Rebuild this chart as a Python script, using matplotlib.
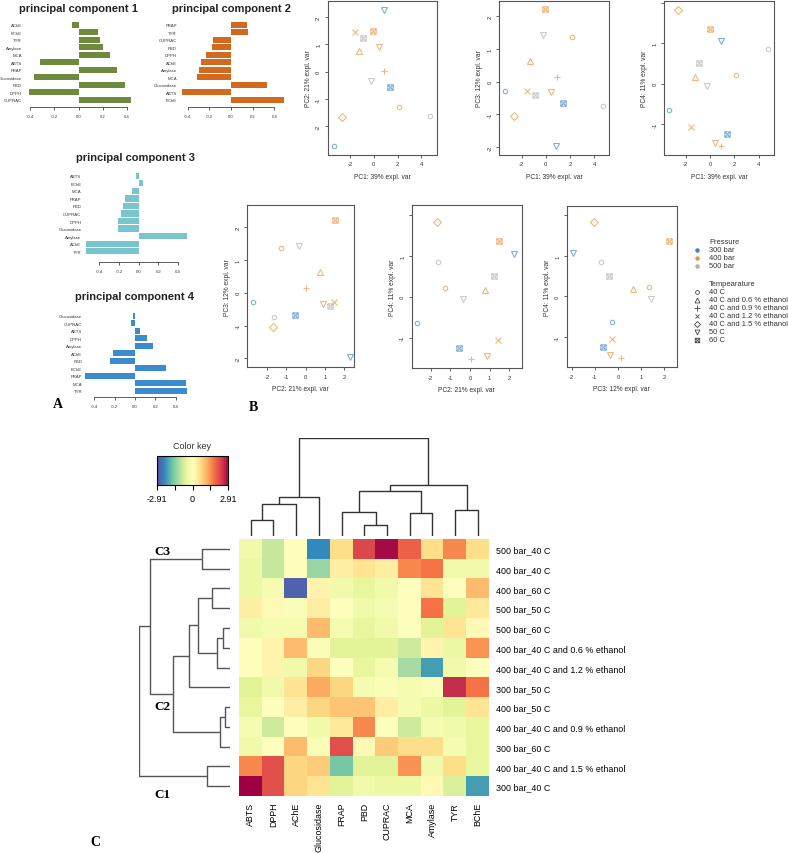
import numpy as np
import matplotlib
matplotlib.use('Agg')
import matplotlib.pyplot as plt
from matplotlib.path import Path

plt.rcParams['font.family'] = ['Liberation Sans', 'DejaVu Sans']

W, H = 788, 854

# ---- loadings, listed top to bottom as drawn
pc1_vars = ['AChE', 'BChE', 'TYR', 'Amylase', 'MCA', 'ABTS', 'FRAP', 'Glucosidase', 'PBD', 'DPPH', 'CUPRAC']
pc1_load = [-0.05, 0.16, 0.18, 0.20, 0.26, -0.32, 0.32, -0.37, 0.38, -0.41, 0.43]
pc2_vars = ['FRAP', 'TYR', 'CUPRAC', 'PBD', 'DPPH', 'AChE', 'Amylase', 'MCA', 'Glucosidase', 'ABTS', 'BChE']
pc2_load = [0.145, 0.155, -0.165, -0.18, -0.23, -0.275, -0.295, -0.315, 0.33, -0.45, 0.49]
pc3_vars = ['ABTS', 'BChE', 'MCA', 'FRAP', 'PBD', 'CUPRAC', 'DPPH', 'Glucosidase', 'Amylase', 'AChE', 'TYR']
pc3_load = [-0.03, 0.045, -0.07, -0.14, -0.16, -0.18, -0.21, -0.21, 0.495, -0.54, -0.54]
pc4_vars = ['Glucosidase', 'CUPRAC', 'ABTS', 'DPPH', 'Amylase', 'AChE', 'PBD', 'BChE', 'FRAP', 'MCA', 'TYR']
pc4_load = [-0.02, -0.04, 0.045, 0.12, 0.175, -0.22, -0.245, 0.30, -0.49, 0.50, 0.515]

# ---- PCA scores
pressure = [300, 300, 300, 400, 400, 400, 400, 400, 400, 400, 500, 500, 500]
condition = ['40 C', '50 C', '60 C', '40 C', '0.6', '0.9', '1.2', '1.5', '50 C', '60 C', '40 C', '50 C', '60 C']
pc1 = [-3.33, 0.87, 1.40, 2.15, -1.26, 0.90, -1.54, -2.66, 0.45, -0.03, 4.75, -0.22, -0.87]
pc2 = [-2.70, 2.27, -0.56, -1.28, 0.76, 0.04, 1.45, -1.67, 0.89, 1.50, -1.63, -0.34, 1.23]
pc3 = [-0.27, -1.96, -0.66, 1.36, 0.64, 0.14, -0.28, -1.04, -0.33, 2.21, -0.73, 1.44, -0.40]
pc4 = [-0.64, 1.06, -1.25, 0.22, 0.17, -1.53, -1.06, 1.83, -1.45, 1.36, 0.86, -0.06, 0.51]

press_levels = [300, 400, 500]
press_names = ['300 bar', '400 bar', '500 bar']
cond_levels = ['40 C', '0.6', '0.9', '1.2', '1.5', '50 C', '60 C']
cond_names = ['40 C', '40 C and 0.6 % ethanol', '40 C and 0.9 % ethanol', '40 C and 1.2 % ethanol',
              '40 C and 1.5 % ethanol', '50 C', '60 C']

# ---- heatmap (rows/cols in dendrogram order)
hm_cols = ['ABTS', 'DPPH', 'AChE', 'Glucosidase', 'FRAP', 'PBD', 'CUPRAC', 'MCA', 'Amylase', 'TYR', 'BChE']
hm_rows = ['500 bar_40 C', '400 bar_40 C', '400 bar_60 C', '500 bar_50 C', '500 bar_60 C',
           '400 bar_40 C and 0.6 % ethanol', '400 bar_40 C and 1.2 % ethanol', '300 bar_50 C',
           '400 bar_50 C', '400 bar_40 C and 0.9 % ethanol', '300 bar_60 C',
           '400 bar_40 C and 1.5 % ethanol', '300 bar_40 C']
hm_vals = [
    [-0.3, -0.9, 0.0, -2.3, 0.6, 2.2, 2.8, 1.9, 0.6, 1.5, 0.6],
    [-0.4, -0.9, 0.0, -1.3, 0.3, 0.5, 0.3, 1.5, 1.7, -0.3, -0.3],
    [-0.4, -0.2, -2.7, 0.2, -0.3, -0.5, -0.3, 0.0, 0.5, 0.0, 1.0],
    [0.3, 0.1, -0.1, 0.3, 0.0, -0.3, -0.2, 0.0, 1.7, -0.6, 0.4],
    [-0.3, -0.2, -0.2, 1.0, -0.2, -0.5, -0.3, 0.0, -0.6, 0.5, 0.1],
    [0.0, 0.2, 1.0, -0.1, -0.6, -0.6, -0.6, -0.8, 0.2, -0.4, 1.4],
    [0.0, 0.2, -0.3, 0.7, 0.0, -0.5, -0.2, -1.2, -2.1, -0.3, 0.0],
    [-0.6, -0.3, 0.5, 1.2, 0.7, -0.2, -0.1, -0.2, -0.1, 2.5, 1.7],
    [-0.5, 0.0, 0.3, 0.7, 0.9, 0.9, 0.3, -0.2, -0.4, -0.6, 0.5],
    [-0.2, -0.8, 0.0, -0.3, 0.4, 1.5, 0.0, -0.8, -0.2, -0.3, -0.5],
    [-0.3, 0.0, 1.0, -0.1, 2.1, 0.1, 0.8, 0.6, 0.6, -0.2, -0.5],
    [1.5, 2.1, 0.7, 0.8, -1.6, -0.6, -0.6, 1.4, -0.3, 0.6, -0.5],
    [2.9, 2.1, 0.7, 0.5, -0.6, -0.3, -0.4, -0.4, 0.1, -0.7, -2.1],
]
key_lim = 2.91

# merges (left, right, height); leaves are 0..n-1, new nodes numbered from n
col_merges = [(0, 1, 1.6), (11, 2, 3.27), (12, 3, 4.0), (5, 6, 1.1), (4, 14, 2.5),
              (7, 8, 2.33), (15, 16, 4.67), (9, 10, 2.73), (17, 18, 5.27), (13, 19, 10.07)]
row_merges = [(0, 1, 2.8), (2, 3, 1.8), (4, 5, 0.7), (15, 6, 1.3), (14, 16, 3.2), (17, 7, 4.1),
              (8, 9, 0.5), (19, 10, 1.0), (18, 20, 5.7), (13, 21, 8.0), (11, 12, 2.3), (22, 23, 9.1)]


def px_axes(fig, x0, y0, x1, y1):
    return fig.add_axes([x0 / W, 1 - y1 / H, (x1 - x0) / W, (y1 - y0) / H])


def dendro_segments(n, merges):
    pos = [float(i) for i in range(n)]
    hgt = [0.0] * n
    segs = []
    for a, b, h in merges:
        segs.append(([pos[a], pos[a], pos[b], pos[b]], [hgt[a], h, h, hgt[b]]))
        pos.append((pos[a] + pos[b]) / 2)
        hgt.append(h)
    return segs


fig = plt.figure(figsize=(W / 100, H / 100), dpi=100)
ov = fig.add_axes([0, 0, 1, 1])
ov.set_xlim(0, W)
ov.set_ylim(H, 0)
ov.axis('off')


def bar_panel(labels, values, color, title, title_xy, zero_x, unit, y_first, step, axis_y, xlim):
    n = len(values)
    x0 = zero_x + xlim[0] * unit
    x1 = zero_x + xlim[1] * unit
    top = y_first - 0.6 * step
    bot = y_first + (n - 0.4) * step
    ax = px_axes(fig, x0, top, x1, bot)
    pos = np.arange(n)
    ax.barh(pos, values, height=0.84, color=color)
    for s in ['left', 'top', 'right']:
        ax.spines[s].set_visible(False)
    ax.spines['bottom'].set_bounds(-0.4, 0.4)
    ax.spines['bottom'].set_position(('outward', (axis_y - bot) * 0.72))
    ax.spines['bottom'].set_linewidth(0.6)
    ax.spines['bottom'].set_color('#444444')
    ax.set_xlim(xlim)
    ax.set_ylim(n - 0.4, -0.6)
    ax.set_yticks(pos)
    ax.set_yticklabels(labels)
    ticks = [-0.4, -0.2, 0.0, 0.2, 0.4]
    ax.set_xticks(ticks)
    ax.set_xticklabels(['%.1f' % t for t in ticks])
    ax.tick_params(axis='y', length=0, pad=1.5, labelsize=3.1, labelcolor='#333333')
    ax.tick_params(axis='x', length=2.2, width=0.6, pad=3.2, color='#444444',
                   labelsize=3.1, labelcolor='#333333')
    ov.text(title_xy[0], title_xy[1], title, fontsize=8, fontweight='bold',
            ha='center', va='center', color='#222222')


bar_panel(pc1_vars, pc1_load, '#6E8B3D', 'principal component 1', (78, 8.5),
          78.5, 121.25, 25.7, 7.5, 108, (-0.45, 0.46))
bar_panel(pc2_vars, pc2_load, '#D2691E', 'principal component 2', (232, 8.5),
          231, 108.3, 25.7, 7.5, 108, (-0.48, 0.52))
bar_panel(pc3_vars, pc3_load, '#7AC5CD', 'principal component 3', (135, 158),
          138.7, 98.5, 176.7, 7.56, 263, (-0.56, 0.52))
bar_panel(pc4_vars, pc4_load, '#3A8CCF', 'principal component 4', (135, 297),
          135, 101.7, 316.7, 7.5, 398, (-0.5, 0.54))

# ---- score plots
press_col = {300: '#3D85C6', 400: '#E8913A', 500: '#B0B0B0'}
sq_x = Path([(-1, -1), (1, -1), (1, 1), (-1, 1), (-1, -1), (-1, -1), (1, 1), (-1, 1), (1, -1)],
            [Path.MOVETO, Path.LINETO, Path.LINETO, Path.LINETO, Path.CLOSEPOLY,
             Path.MOVETO, Path.LINETO, Path.MOVETO, Path.LINETO])
cond_mark = {'40 C': ('o', 3.2), '0.6': ('^', 4.2), '0.9': ('+', 5.0), '1.2': ('x', 3.8),
             '1.5': ('D', 3.6), '50 C': ('v', 4.2), '60 C': (sq_x, 3.8)}

scores = {'PC1': pc1, 'PC2': pc2, 'PC3': pc3, 'PC4': pc4}
expl = {'PC1': '39%', 'PC2': '21%', 'PC3': '12%', 'PC4': '11%'}

panels = [
    ('PC1', 'PC2', (327.7, 1.5, 437.3, 155.7), (-3.87, 5.34), (-3.03, 2.6), [-2, 0, 2, 4], [-2, -1, 0, 1, 2], True),
    ('PC1', 'PC3', (499.3, 1.5, 609.3, 155.7), (-3.84, 5.26), (-2.23, 2.48), [-2, 0, 2, 4], [-2, -1, 0, 1, 2], True),
    ('PC1', 'PC4', (664, 1.5, 774.3, 155.7), (-3.77, 5.27), (-1.75, 2.06), [-2, 0, 2, 4], [-1, 0, 1, 2], False),
    ('PC2', 'PC3', (247.3, 206, 354, 368.3), (-3.01, 2.49), (-2.27, 2.68), [-2, -1, 0, 1, 2], [-2, -1, 0, 1, 2], True),
    ('PC2', 'PC4', (411.7, 206, 521.7, 369.3), (-2.97, 2.64), (-1.75, 2.25), [-2, -1, 0, 1, 2], [-1, 0, 1, 2], False),
    ('PC3', 'PC4', (566.7, 207, 676.7, 368.3), (-2.22, 2.54), (-1.75, 2.23), [-2, -1, 0, 1, 2], [-1, 0, 1, 2], False),
]

for xk, yk, box, xl, yl, xt, yt, top_label in panels:
    ax = px_axes(fig, *box)
    xs, ys = scores[xk], scores[yk]
    for i in range(len(xs)):
        m, ms = cond_mark[condition[i]]
        ax.plot(xs[i], ys[i], linestyle='none', marker=m, markersize=ms, mfc='none',
                mec=press_col[pressure[i]], mew=0.8, alpha=0.65)
    ax.set_xlim(xl)
    ax.set_ylim(yl)
    ax.set_xticks(xt)
    ax.set_xticklabels([str(t) for t in xt], fontsize=4.2)
    ax.set_yticks(yt)
    ylabs = [str(t) for t in yt]
    if not top_label:
        ylabs[-1] = ''
    ax.set_yticklabels(ylabs, fontsize=4.2, rotation=90, va='center')
    ax.tick_params(length=2.2, width=0.6, pad=2.5, color='#444444', labelcolor='#333333')
    for s in ax.spines.values():
        s.set_linewidth(0.8)
        s.set_color('#555555')
    cx = (box[0] + box[2]) / 2
    cy = (box[1] + box[3]) / 2
    ov.text(cx, box[3] + 21.5, '%s: %s expl. var' % (xk, expl[xk]), fontsize=4.8,
            ha='center', va='center', color='#333333')
    ov.text(box[0] - 19.5, cy, '%s: %s expl. var' % (yk, expl[yk]), fontsize=4.8,
            ha='center', va='center', rotation=90, color='#333333')

# legend
ov.text(709, 242.7, 'Pressure', fontsize=5.4, va='center', color='#333333')
for i, p in enumerate(press_levels):
    y = 250.7 + i * 8.1
    ov.plot(697.3, y, 'o', markersize=2.2, color=press_col[p])
    ov.text(709, y, press_names[i], fontsize=5.4, va='center', color='#333333')
ov.text(709, 284.3, 'Tempearature', fontsize=5.4, va='center', color='#333333')
for i, c in enumerate(cond_levels):
    y = 292.7 + i * 8.05
    m, ms = cond_mark[c]
    ov.plot(697.3, y, linestyle='none', marker=m, markersize=ms * 0.85, mfc='none',
            mec='#444444', mew=0.6)
    ov.text(709, y, cond_names[i], fontsize=5.4, va='center', color='#333333')

ov.text(58, 405, 'A', fontsize=10, fontweight='bold', family='Liberation Serif', ha='center', va='center')
ov.text(253, 408, 'B', fontsize=10, fontweight='bold', family='Liberation Serif', ha='center', va='center')
ov.text(95, 843, 'C', fontsize=10, fontweight='bold', family='Liberation Serif', ha='center', va='center')

# ---- heatmap
hx0, hy0, hx1, hy1 = 239.3, 540, 489.3, 797
hax = px_axes(fig, hx0, hy0, hx1, hy1)
hax.imshow(np.array(hm_vals), cmap='Spectral_r', vmin=-key_lim, vmax=key_lim,
           aspect='auto', interpolation='nearest')
hax.set_xticks(range(len(hm_cols)))
hax.set_xticklabels(hm_cols, rotation=90, fontsize=6.4, va='top')
hax.yaxis.tick_right()
hax.set_yticks(range(len(hm_rows)))
hax.set_yticklabels(hm_rows, fontsize=6.4)
hax.tick_params(axis='x', length=0, pad=4.3)
hax.tick_params(axis='y', length=0, pad=4.8)
for s in hax.spines.values():
    s.set_visible(False)

# column dendrogram
cax = px_axes(fig, hx0, 439.3, hx1, 537)
for xs, ys in dendro_segments(len(hm_cols), col_merges):
    cax.plot(xs, ys, color='#333333', lw=1.0, solid_capstyle='butt')
cax.set_xlim(-0.5, len(hm_cols) - 0.5)
cax.set_ylim(0, col_merges[-1][2])
cax.axis('off')

# row dendrogram
rax = px_axes(fig, 139, hy0, 230, hy1)
for xs, ys in dendro_segments(len(hm_rows), row_merges):
    rax.plot(ys, xs, color='#555555', lw=1.0, solid_capstyle='butt')
rax.set_xlim(row_merges[-1][2], 0)
rax.set_ylim(len(hm_rows) - 0.5, -0.5)
rax.axis('off')

for lab, y in [('C3', 552), ('C2', 707), ('C1', 795)]:
    ov.text(162, y, lab, fontsize=9.5, fontweight='bold', family='Liberation Serif',
            ha='center', va='center')

# colour key
kax = px_axes(fig, 156.7, 456.7, 228.3, 486)
grad = np.linspace(-key_lim, key_lim, 256).reshape(1, -1)
kax.imshow(grad, cmap='Spectral_r', vmin=-key_lim, vmax=key_lim, aspect='auto',
           extent=(-key_lim, key_lim, 0, 1))
kticks = [-key_lim, -key_lim / 2, 0, key_lim / 2, key_lim]
kax.set_xticks(kticks)
kax.set_xticklabels(['-2.91', '', '0', '', '2.91'], fontsize=6.5)
kax.set_yticks([])
kax.tick_params(axis='x', length=3.5, width=0.8, pad=3)
for s in kax.spines.values():
    s.set_linewidth(0.8)
ov.text(192.5, 446.7, 'Color key', fontsize=6.5, ha='center', va='center', color='#333333')

fig.savefig('out.png', dpi=100)
